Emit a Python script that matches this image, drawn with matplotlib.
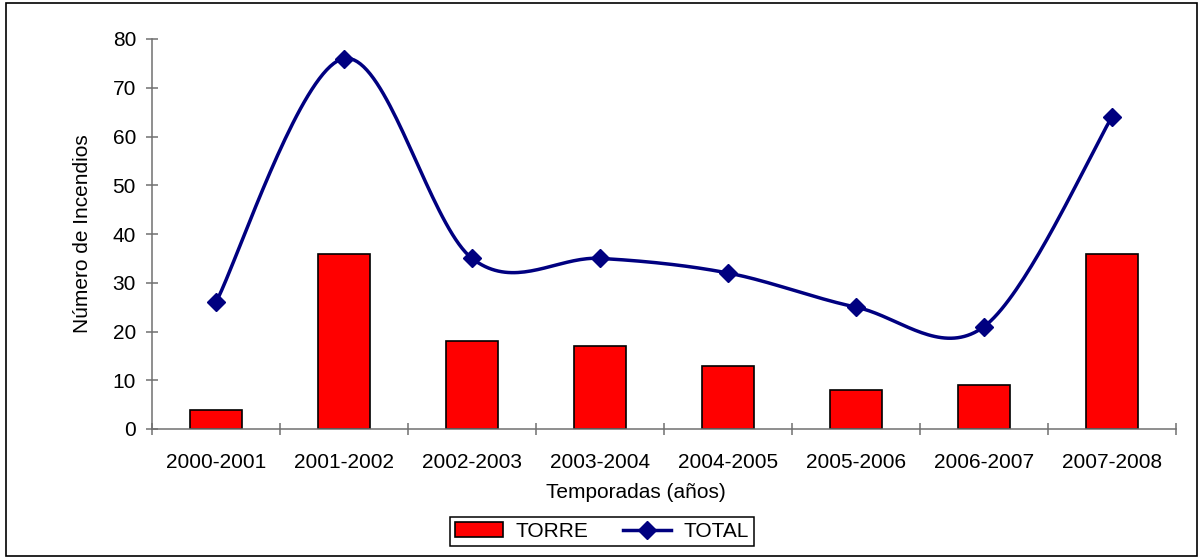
import matplotlib
matplotlib.use("Agg")
import matplotlib.pyplot as plt
import numpy as np
from matplotlib.patches import Rectangle

plt.rcParams['font.family'] = ['Liberation Sans', 'DejaVu Sans']

temporadas = ['2000-2001', '2001-2002', '2002-2003', '2003-2004',
              '2004-2005', '2005-2006', '2006-2007', '2007-2008']
torre = [4, 36, 18, 17, 13, 8, 9, 36]
total = [26, 76, 35, 35, 32, 25, 21, 64]


def curva_suave(x, y, pasos=40):
    # segmentos Bezier tipo Catmull-Rom (linea suavizada estilo Excel)
    x = np.asarray(x, float)
    y = np.asarray(y, float)
    px = np.concatenate([[x[0]], x, [x[-1]]])
    py = np.concatenate([[y[0]], y, [y[-1]]])
    t = np.linspace(0, 1, pasos)[:, None]
    xs, ys = [], []
    for i in range(1, len(px) - 2):
        p0 = np.array([px[i], py[i]])
        p3 = np.array([px[i + 1], py[i + 1]])
        c1 = p0 + (p3 - np.array([px[i - 1], py[i - 1]])) / 6
        c2 = p3 - (np.array([px[i + 2], py[i + 2]]) - p0) / 6
        b = ((1 - t) ** 3 * p0 + 3 * (1 - t) ** 2 * t * c1
             + 3 * (1 - t) * t ** 2 * c2 + t ** 3 * p3)
        xs.append(b[:, 0])
        ys.append(b[:, 1])
    return np.concatenate(xs), np.concatenate(ys)


fs = 15

fig = plt.figure(figsize=(12, 5.58), dpi=100)
ax = fig.add_axes([152 / 1200, 1 - 429 / 558, 1024 / 1200, 390 / 558])

pos = np.arange(len(temporadas))
barras = ax.bar(pos, torre, width=0.4, color='#ff0000', edgecolor='black',
                linewidth=1.2, label='TORRE', zorder=2)

sx, sy = curva_suave(pos, total)
ax.plot(sx, sy, color='#000080', linewidth=2.5, zorder=3)
ax.plot(pos, total, linestyle='none', marker='D', markersize=9,
        color='#000080', zorder=4)
linea, = ax.plot([], [], color='#000080', linewidth=2.5, marker='D',
                 markersize=9, label='TOTAL')

ax.set_xlim(-0.5, len(temporadas) - 0.5)
ax.set_ylim(0, 80)
ax.set_yticks(range(0, 81, 10))
ax.set_xticks(np.arange(len(temporadas) + 1) - 0.5)
ax.set_xticklabels([])
ax.set_xticks(pos, minor=True)
ax.set_xticklabels(temporadas, minor=True)

for lado in ['top', 'right']:
    ax.spines[lado].set_visible(False)
for lado in ['left', 'bottom']:
    ax.spines[lado].set_color('#707070')
    ax.spines[lado].set_linewidth(1.1)

ax.tick_params(axis='y', direction='inout', length=9, width=1.1,
               color='#707070', labelsize=fs, pad=7)
ax.tick_params(axis='x', which='major', direction='inout', length=9,
               width=1.1, color='#707070')
ax.tick_params(axis='x', which='minor', length=0, labelsize=fs, pad=17)

ax.set_ylabel('Número de Incendios', fontsize=fs)
ax.yaxis.set_label_coords((92 - 152) / 1024, 0.5)
fig.text(636 / 1200, 1 - 493 / 558, 'Temporadas (años)', fontsize=fs,
         ha='center', va='center')

leg = fig.legend(handles=[barras, linea], loc='center', ncol=2,
                 bbox_to_anchor=(602 / 1200, 1 - 531.5 / 558),
                 fontsize=fs, fancybox=False, edgecolor='black',
                 framealpha=1, handlelength=2.3, handleheight=0.7,
                 handletextpad=0.6, columnspacing=1.7, borderpad=0.25)
leg.get_frame().set_linewidth(1.1)

fig.patches.append(Rectangle((6 / 1200, 2 / 558), 1191 / 1200, 553 / 558,
                             transform=fig.transFigure, fill=False,
                             edgecolor='black', linewidth=1.2))

fig.savefig('out.png', dpi=100)
plt.close(fig)
